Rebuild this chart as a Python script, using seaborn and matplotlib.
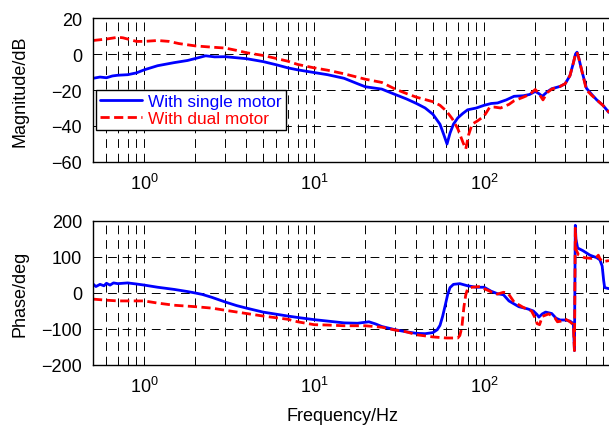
import numpy as np
import pandas as pd
import matplotlib
matplotlib.use("Agg")
import matplotlib.pyplot as plt
import matplotlib.ticker as mticker
import seaborn as sns

# ---------------- data ----------------
freq_mag_single = [0.5, 0.55, 0.6, 0.65, 0.7, 0.8, 0.9, 1.0, 1.2, 1.5, 1.8, 2.0, 2.3, 2.6, 3.0, 4.0,
                   5.0, 6.0, 7.0, 8.0, 10, 12, 15, 18, 20, 25, 30, 35, 40, 45, 50, 55, 58, 60.5,
                   63, 66, 70, 75, 80, 90, 100, 110, 120, 135, 150, 170, 185, 200, 210, 220, 235,
                   250, 280, 300, 320, 335, 345, 352, 360, 375, 400, 430, 460, 500, 543]
mag_single = [-13.5, -12.8, -13.2, -12.2, -11.8, -11.5, -10.5, -8.8, -6.5, -4.8, -3.6, -2.5, -1.0,
              -1.6, -1.5, -2.6, -4.2, -6.0, -7.7, -8.8, -10.3, -11.5, -13.5, -16.5, -18.2, -19.5,
              -22.5, -25.0, -27.5, -30.0, -33.5, -39.0, -45.0, -50.0, -44.0, -39.0, -35.5, -33.0,
              -31.0, -30.0, -28.5, -27.5, -27.2, -25.5, -23.5, -23.2, -22.5, -20.8, -22.0, -23.5,
              -21.0, -19.3, -18.0, -16.5, -12.0, -5.0, 0.0, 1.0, -2.0, -9.0, -19.0, -22.5, -25.5,
              -28.5, -32.5]

freq_mag_dual = [0.5, 0.6, 0.7, 0.75, 0.8, 0.9, 1.0, 1.2, 1.4, 1.6, 2.0, 2.5, 3.0, 3.5, 4.0, 5.0,
                 6.0, 7.0, 8.0, 10, 12, 15, 20, 25, 30, 35, 40, 50, 55, 60, 65, 70, 75, 78, 81,
                 85, 92, 100, 108, 115, 125, 140, 150, 170, 185, 200, 210, 222, 235, 250, 280,
                 300, 320, 335, 345, 352, 360, 375, 400, 430, 460, 500, 543]
mag_dual = [7.5, 8.3, 9.3, 9.0, 8.3, 7.0, 7.0, 7.5, 7.0, 5.8, 4.5, 3.8, 3.3, 2.0, 0.7, -0.8,
            -2.5, -4.0, -5.8, -7.7, -9.0, -11.0, -14.0, -15.8, -19.5, -22.0, -24.0, -26.5,
            -28.5, -31.7, -36.0, -41.5, -49.0, -52.8, -45.0, -39.0, -37.0, -34.5, -29.5, -29.5,
            -30.0, -28.0, -26.0, -24.0, -22.5, -19.7, -22.0, -25.5, -21.5, -19.5, -18.0, -16.5,
            -12.0, -5.0, 0.0, 1.0, -2.0, -9.0, -20.0, -23.0, -25.5, -28.5, -32.5]

freq_ph_single = [0.5, 0.52, 0.55, 0.58, 0.6, 0.63, 0.66, 0.7, 0.8, 0.9, 1.0, 1.2, 1.5, 1.8, 2.0,
                  2.2, 2.5, 3.0, 3.5, 4.0, 5.0, 6.0, 7.0, 8.0, 10, 12, 15, 18, 21, 23, 25, 30, 35,
                  40, 45, 50, 53, 55, 57, 59, 61, 63, 66, 72, 80, 90, 100, 110, 120, 130, 140,
                  160, 180, 195, 205, 210, 220, 230, 250, 265, 280, 300, 320, 335, 340, 344,
                  347, 355, 380, 420, 460, 480, 495, 505, 512, 543]
ph_single = [25, 18, 24, 20, 27, 22, 28, 26, 28, 25, 22, 16, 10, 4, 0, -4, -12, -25, -35, -42,
             -53, -59, -64, -68, -74, -78, -83, -84, -80, -86, -93, -102, -108, -112, -113,
             -110, -102, -90, -65, -35, -5, 15, 24, 26, 20, 16, 16, 5, -2, -5, -22, -38, -44,
             -50, -60, -67, -58, -53, -57, -70, -75, -75, -78, -85, -160, 188, 150, 125, 118,
             105, 98, 92, 75, 35, 15, 12]

freq_ph_dual = [0.5, 0.6, 0.7, 0.8, 1.0, 1.2, 1.5, 2.0, 2.5, 3.0, 4.0, 5.0, 7.0, 8.0, 10, 12, 15,
                20, 25, 30, 35, 40, 50, 60, 70, 72, 74, 76, 78, 80, 85, 95, 100, 108, 115, 120,
                130, 138, 150, 170, 190, 200, 205, 212, 220, 240, 260, 270, 285, 300, 320, 335,
                340, 344, 348, 360, 390, 430, 460, 470, 480, 500, 543]
ph_dual = [-17, -20, -22, -22, -22, -28, -34, -38, -42, -48, -57, -64, -73, -80, -88, -89, -91,
           -91, -95, -103, -108, -116, -122, -125, -125, -118, -95, -40, -5, 12, 16, 18, 12, 5,
           -2, -3, 2, 0, -25, -40, -50, -70, -85, -88, -65, -58, -68, -80, -78, -72, -80, -88,
           -160, 180, 120, 105, 98, 96, 100, 105, 95, 87, 90]

series_labels = ["With single motor", "With dual motor"]
mag_ticks = [20, 0, -20, -40, -60]
phase_ticks = [200, 100, 0, -100, -200]

# ---------------- style ----------------
sns.set_style("white")
plt.rcParams["font.family"] = ["Liberation Sans", "DejaVu Sans"]
plt.rcParams["mathtext.fontset"] = "custom"
plt.rcParams["mathtext.rm"] = "Liberation Sans"
plt.rcParams["mathtext.it"] = "Liberation Sans:italic"
plt.rcParams["text.color"] = "black"
plt.rcParams["axes.labelcolor"] = "black"
plt.rcParams["xtick.color"] = "black"
plt.rcParams["ytick.color"] = "black"

FS = 13
BLUE = "#0000ff"
RED = "#ff0000"
LW = 2.0
RED_DASH = (0, (3.3, 1.6))

fig = plt.figure(figsize=(6.09, 4.27), dpi=100)
W, H = 609, 427
left = 93 / W
ax1 = fig.add_axes([left, 1 - 163 / H, 1 - left, (163 - 19) / H])
ax2 = fig.add_axes([left, 1 - 366 / H, 1 - left, (366 - 222) / H])

df_ms = pd.DataFrame({"f": freq_mag_single, "v": mag_single})
df_md = pd.DataFrame({"f": freq_mag_dual, "v": mag_dual})
df_ps = pd.DataFrame({"f": freq_ph_single, "v": ph_single})
df_pd = pd.DataFrame({"f": freq_ph_dual, "v": ph_dual})

sns.lineplot(data=df_ms, x="f", y="v", ax=ax1, color=BLUE, linewidth=LW,
             label=series_labels[0], sort=False, estimator=None)
sns.lineplot(data=df_md, x="f", y="v", ax=ax1, color=RED, linewidth=LW,
             linestyle=RED_DASH, label=series_labels[1], sort=False, estimator=None)
sns.lineplot(data=df_ps, x="f", y="v", ax=ax2, color=BLUE, linewidth=LW,
             sort=False, estimator=None)
sns.lineplot(data=df_pd, x="f", y="v", ax=ax2, color=RED, linewidth=LW,
             linestyle=RED_DASH, sort=False, estimator=None)

for ax, ticks in ((ax1, mag_ticks), (ax2, phase_ticks)):
    ax.set_xscale("log")
    ax.set_xlim(0.5, 543)
    ax.set_ylim(min(ticks), max(ticks))
    ax.set_yticks(ticks)
    ax.xaxis.set_major_locator(mticker.LogLocator(base=10, numticks=10))
    ax.xaxis.set_minor_locator(mticker.LogLocator(base=10, subs=np.arange(2, 10), numticks=20))
    ax.xaxis.set_minor_formatter(mticker.NullFormatter())
    ax.grid(True, which="major", axis="both", color="black", linewidth=0.7,
            linestyle=(0, (9, 6)))
    ax.grid(True, which="minor", axis="x", color="black", linewidth=0.7,
            linestyle=(0, (9, 6)))
    ax.set_axisbelow(True)
    ax.tick_params(axis="both", which="both", direction="in", labelsize=FS,
                   colors="black", length=0, pad=8)
    for side in ("left", "top", "bottom"):
        ax.spines[side].set_color("black")
        ax.spines[side].set_linewidth(1.0)
    ax.spines["right"].set_visible(False)
    ax.set_xlabel("")

ax1.set_ylabel("Magnitude/dB", fontsize=FS, color="black")
ax2.set_ylabel("Phase/deg", fontsize=FS, color="black")
ax1.yaxis.set_label_coords(-0.125, 0.5)
ax2.yaxis.set_label_coords(-0.125, 0.5)
ax2.set_xlabel("Frequency/Hz", fontsize=FS, color="black")
ax2.xaxis.set_label_coords((343 - 93) / (W - 93), -0.29)

leg = ax1.legend(loc="upper left", bbox_to_anchor=((96 - 93) / (W - 93), (163 - 91) / 144),
                 borderaxespad=0, fontsize=12.4, handlelength=2.4, handletextpad=0.35,
                 labelspacing=0.1, borderpad=0.25, fancybox=False, framealpha=1,
                 edgecolor="black")
leg.get_frame().set_linewidth(1.0)
for txt, c in zip(leg.get_texts(), (BLUE, RED)):
    txt.set_color(c)

fig.savefig("out.png", dpi=100)
